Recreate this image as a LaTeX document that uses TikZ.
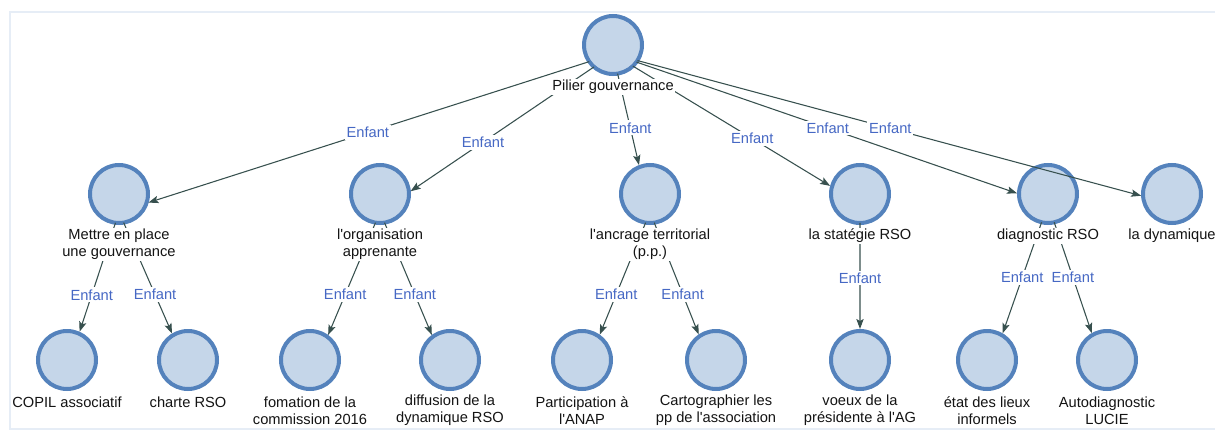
\documentclass[tikz,border=0pt]{standalone}
\usepackage{fontspec}
\setmainfont{Liberation Sans}[Ligatures=TeXOff]
\usetikzlibrary{arrows.meta,intersections}
\definecolor{circF}{RGB}{197,214,233}
\definecolor{circB}{RGB}{84,130,188}
\definecolor{edgeC}{RGB}{55,80,78}
\definecolor{enfC}{RGB}{70,104,196}
\definecolor{frameC}{RGB}{230,237,246}
\definecolor{txtC}{RGB}{20,20,20}
\newcommand\cnode[3]{%
  \node[circ] (#1) at (#2,#3) {};
  \path[name path=p#1] (#2,#3) circle[radius=29];}
\newcommand\tedge[3]{%
  \path[name path=tmpln] (#1c) -- (#2c);
  \path[name intersections={of=tmpln and p#1,by=ps}];
  \path[name intersections={of=tmpln and p#2,by=pe}];
  \draw[conn] (ps) -- node[enf,pos=#3]{Enfant} (pe);}
\begin{document}
\begin{tikzpicture}[x=0.75pt,y=-0.75pt,
  font=\fontsize{11pt}{12.75pt}\selectfont,
  circ/.style={circle,draw=circB,fill=circF,line width=3pt,minimum size=43.5pt,inner sep=0pt},
  lbl/.style={fill=white,text=txtC,align=center,inner sep=1pt},
  enf/.style={fill=white,text=enfC,inner sep=1.5pt},
  conn/.style={draw=edgeC,line width=0.8pt,-{Stealth[length=7.5pt,width=5.5pt,inset=1.5pt]},shorten >=1.5pt}]
\useasboundingbox (0,0) rectangle (1215,432);
\draw[frameC,line width=1.5pt] (10,12) rectangle (1219,429);
% circles
\cnode{R}{613}{45}
\cnode{A}{119}{194}
\cnode{B}{380}{194}
\cnode{C}{650}{194}
\cnode{D}{860}{194}
\cnode{E}{1048}{194}
\cnode{F}{1172}{194}
\cnode{A1}{67}{360}
\cnode{A2}{188}{360}
\cnode{B1}{310}{360}
\cnode{B2}{450}{360}
\cnode{C1}{582}{360}
\cnode{C2}{716}{360}
\cnode{D1}{860}{360}
\cnode{E1}{987}{360}
\cnode{E2}{1107}{360}
% centres of circle + label
\coordinate (Rc) at (613,54);
\coordinate (Ac) at (119,212);
\coordinate (Bc) at (380,212);
\coordinate (Cc) at (650,212);
\coordinate (Dc) at (860,204);
\coordinate (Ec) at (1048,204);
\coordinate (Fc) at (1172,204);
\coordinate (A1c) at (67,370);
\coordinate (A2c) at (188,370);
\coordinate (B1c) at (310,378);
\coordinate (B2c) at (450,378);
\coordinate (C1c) at (582,378);
\coordinate (C2c) at (716,378);
\coordinate (D1c) at (860,378);
\coordinate (E1c) at (987,378);
\coordinate (E2c) at (1107,378);
% connectors
\tedge{R}{A}{0.5}
\tedge{R}{B}{0.6}
\tedge{R}{C}{0.58}
\tedge{R}{D}{0.6}
\tedge{R}{E}{0.5}
\tedge{R}{F}{0.5}
\tedge{A}{A1}{0.65}
\tedge{A}{A2}{0.64}
\tedge{B}{B1}{0.63}
\tedge{B}{B2}{0.63}
\tedge{C}{C1}{0.63}
\tedge{C}{C2}{0.63}
\tedge{D}{D1}{0.51}
\tedge{E}{E1}{0.49}
\tedge{E}{E2}{0.49}
% labels
\node[lbl] (Rl) at (613,87) {Pilier gouvernance};
\node[lbl] (Al) at (119,244.5) {Mettre en place\\une gouvernance};
\node[lbl] (Bl) at (380,244.5) {l'organisation\\apprenante};
\node[lbl] (Cl) at (650,244.5) {l'ancrage territorial\\(p.p.)};
\node[lbl] (Dl) at (860,236) {la statégie RSO};
\node[lbl] (El) at (1048,236) {diagnostic RSO};
\node[lbl] (Fl) at (1172,236) {la dynamique};
\node[lbl] (A1l) at (67,402) {COPIL associatif};
\node[lbl] (A2l) at (188,402) {charte RSO};
\node[lbl] (B1l) at (310,410.5) {fomation de la\\commission 2016};
\node[lbl] (B2l) at (450,410.5) {diffusion de la\\dynamique RSO};
\node[lbl] (C1l) at (582,410.5) {Participation à\\l'ANAP};
\node[lbl] (C2l) at (716,410.5) {Cartographier les\\pp de l'association};
\node[lbl] (D1l) at (860,410.5) {voeux de la\\présidente à l'AG};
\node[lbl] (E1l) at (987,410.5) {état des lieux\\informels};
\node[lbl] (E2l) at (1107,410.5) {Autodiagnostic\\LUCIE};
\end{tikzpicture}
\end{document}
